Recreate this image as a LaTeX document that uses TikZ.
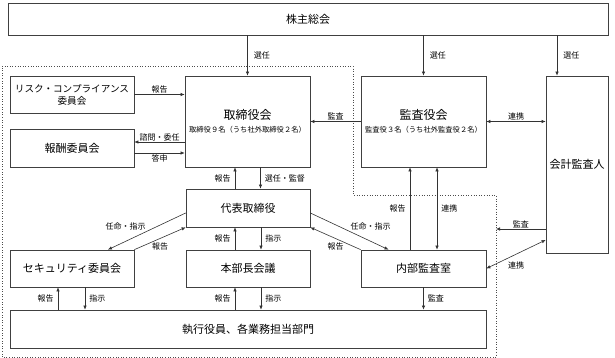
\documentclass[tikz,border=0pt]{standalone}
\usepackage{fontspec}
\setmainfont{Noto Sans CJK JP}
\usetikzlibrary{positioning,calc,arrows.meta}

\begin{document}
\begin{tikzpicture}[x=1pt,y=-1pt,>={Latex[length=4pt,width=3.5pt]},
  box/.style={draw=black!75,line width=0.7pt,inner sep=0pt,align=center,
    font=\fontsize{11}{13}\selectfont},
  lbl/.style={font=\fontsize{8}{9}\selectfont,inner sep=1pt},
  conn/.style={draw=black!80,line width=0.6pt}]
\useasboundingbox (0,0) rectangle (615,358);
\draw[black!70,dotted,line width=0.6pt] (2,66) -- (353,66) -- (353,195) -- (496,195) -- (496,357) -- (2,357) -- cycle;
\coordinate (kdash) at (496,229);
\node[box,minimum width=600pt,minimum height=32pt] (kabu) at (308,19) {株主総会};
\node[box,minimum width=124pt,minimum height=37pt,font=\fontsize{9.6}{12}\selectfont] (risk) at (72,94.5) {リスク・コンプライアンス\\委員会};
\node[box,minimum width=124pt,minimum height=38pt] (hoshu) at (72,148) {報酬委員会};
\node[box,minimum width=125pt,minimum height=91pt] (tori) at (247.5,121.5)
  {{\fontsize{12}{14}\selectfont 取締役会}\\{\fontsize{7.3}{8}\selectfont 取締役９名（うち社外取締役２名）}};
\node[box,minimum width=125pt,minimum height=91pt] (kansa) at (423.5,121.5)
  {{\fontsize{12}{14}\selectfont 監査役会}\\{\fontsize{7.3}{8}\selectfont 監査役３名（うち社外監査役２名）}};
\node[box,minimum width=62pt,minimum height=177pt] (kaikei) at (577,164.5) {会計監査人};
\node[box,minimum width=124pt,minimum height=38pt] (daihyo) at (248,208) {代表取締役};
\node[box,minimum width=124pt,minimum height=37pt] (secu) at (72,268.5) {セキュリティ委員会};
\node[box,minimum width=124pt,minimum height=37pt] (honbu) at (248,268.5) {本部長会議};
\node[box,minimum width=125pt,minimum height=37pt] (naibu) at (423.5,268.5) {内部監査室};
\node[box,minimum width=476pt,minimum height=38pt] (shikko) at (248,329) {執行役員、各業務担当部門};

\draw[conn,->] (kabu.south -| tori.north) -- node[lbl,right=5pt]{選任} (tori.north);
\draw[conn,->] (kabu.south -| kansa.north) -- node[lbl,right=5pt]{選任} (kansa.north);
\draw[conn,->] (kabu.south -| kdash) ++(61pt,0) coordinate (kk) -- node[lbl,right=5pt]{選任} (kk |- kaikei.north);
\draw[conn,->] (risk.east) -- node[lbl,above]{報告} (risk.east -| tori.west);
\draw[conn,->] ([yshift=6pt]hoshu.east -| tori.west) -- node[lbl,above]{諮問・委任} ([yshift=6pt]hoshu.east);
\draw[conn,->] ([yshift=-5pt]hoshu.east) -- node[lbl,below]{答申} ([yshift=-5pt]hoshu.east -| tori.west);
\draw[conn,->] (kansa.west) -- node[lbl,above]{監査} (tori.east);
\draw[conn,<->] (kansa.east) -- node[lbl,above]{連携} (kansa.east -| kaikei.west);
\draw[conn,->] ([xshift=-13pt]daihyo.north) -- node[lbl,left=3pt]{報告} ([xshift=-13pt]daihyo.north |- tori.south);
\draw[conn,->] ([xshift=13pt]tori.south) -- node[lbl,right=3pt]{選任・監督} ([xshift=13pt]tori.south |- daihyo.north);
\draw[conn,->] ([xshift=-13pt]honbu.north) -- node[lbl,left=3pt]{報告} ([xshift=-13pt]honbu.north |- daihyo.south);
\draw[conn,->] ([xshift=13pt]daihyo.south) -- node[lbl,right=3pt]{指示} ([xshift=13pt]daihyo.south |- honbu.north);
\draw[conn,->] ([xshift=-13pt]shikko.north -| honbu) -- node[lbl,left=3pt]{報告} ([xshift=-13pt]honbu.south);
\draw[conn,->] ([xshift=13pt]honbu.south) -- node[lbl,right=3pt]{指示} ([xshift=13pt]shikko.north -| honbu);
\draw[conn,->] ([xshift=-14pt]shikko.north -| secu) -- node[lbl,left=3pt]{報告} ([xshift=-14pt]secu.south);
\draw[conn,->] ([xshift=13pt]secu.south) -- node[lbl,right=3pt]{指示} ([xshift=13pt]shikko.north -| secu);
\draw[conn,->] ([yshift=-5pt]daihyo.west) -- node[lbl,above left=0pt]{任命・指示} ([xshift=36pt]secu.north);
\draw[conn,->] (secu.north east) -- node[lbl,below=3pt]{報告} (daihyo.south west);
\draw[conn,->] ([yshift=-5pt]daihyo.east) -- node[lbl,above right=0pt]{任命・指示} ([xshift=-35pt]naibu.north);
\draw[conn,->] (naibu.north west) -- node[lbl,below=3pt]{報告} (daihyo.south east);
\draw[conn,->] ([xshift=-13.5pt]naibu.north) -- node[lbl,left=3pt]{報告} ([xshift=-13.5pt]naibu.north |- kansa.south);
\draw[conn,<->] ([xshift=13.5pt]kansa.south) -- node[lbl,right=3pt]{連携} ([xshift=13.5pt]kansa.south |- naibu.north);
\draw[conn,->] (kdash -| kaikei.west) -- node[lbl,above]{監査} (kdash);
\draw[conn,<->] ([yshift=-75.5pt]kaikei.west) -- node[lbl,below=6pt]{連携} (naibu.east);
\draw[conn,->] (naibu.south) -- node[lbl,right=3pt]{監査} (naibu.south |- shikko.north);
\end{tikzpicture}
\end{document}
